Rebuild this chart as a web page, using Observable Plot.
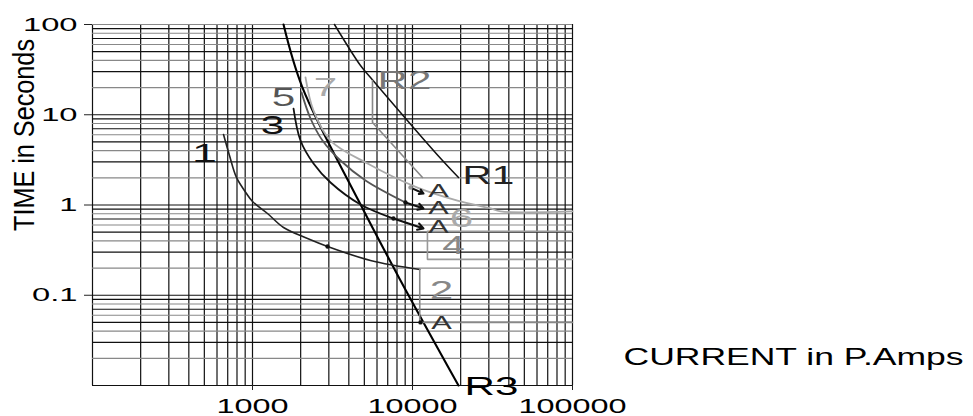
<!DOCTYPE html>
<html><head><meta charset="utf-8">
<script src="https://cdn.jsdelivr.net/npm/d3@7"></script>
<script src="https://cdn.jsdelivr.net/npm/@observablehq/plot@0.6"></script>
<style>body{margin:0;background:#fff}</style>
</head><body><div id="chart"></div>
<script>
// ---- axes / grid values ----
const xDecades = [100, 1000, 10000];
const yDecades = [0.01, 0.1, 1, 10];
const gridMultipliers = [1, 2, 3, 4, 5, 6, 7, 8, 9];
const xTickValues = [1000, 10000, 100000];
const xTickLabels = ["1000", "10000", "100000"];
const yTickValues = [100, 10, 1, 0.1];
const yTickLabels = ["100", "10", "1", "0.1"];
const xTitle = "CURRENT in P.Amps";
const yTitle = "TIME in Seconds";

// ---- curves (current in A, time in s) ----
const r3Current = [1563, 2053, 4597, 8414, 19390];
const r3Time    = [100, 20.0, 1.12, 0.146, 0.01];
const r1Current = [3254, 4732, 5463, 15399, 19390];
const r1Time    = [100, 35.1, 25.9, 3.11, 2.02];
const r2Current = [5623, 5623, 11548];
const r2Time    = [24.0, 8.2, 2.02];
const c1Current = [659, 718, 794, 917, 1000, 1241, 1563, 2208, 2944, 5463, 11100];
const c1Time    = [6.04, 3.54, 2.02, 1.34, 1.094, 0.805, 0.563, 0.425, 0.347, 0.243, 0.193];
const c2Current = [11100, 11100, 100000];
const c2Time    = [0.193, 0.05, 0.05];
const c3Current = [1805, 1995, 2405, 3073, 4732, 7603];
const c3Time    = [11.7, 5.18, 2.88, 1.775, 1.013, 0.708];
const c4Current = [100000, 12400, 12400, 100000];
const c4Time    = [0.51, 0.51, 0.25, 0.25];
const c5Current = [2024, 2304, 2738, 3548, 5085, 9040];
const c5Time    = [17.7, 9.09, 5.18, 3.11, 1.87, 1.066];
const c7Current = [2144, 2405, 3073, 5236, 10740, 19100, 30730, 35480, 100000];
const c7Time    = [25.9, 11.1, 5.18, 2.88, 1.56, 1.12, 0.915, 0.85, 0.85];

// marker dots
const dotCurrent = [2944, 7603, 9040, 11220];
const dotTime    = [0.347, 0.708, 1.066, 0.05];
const dotCurrentLight = [9716];
const dotTimeLight    = [1.56];
// arrows to the "A" marks
const arrowFromCurrent = [9716, 9040, 7603];
const arrowFromTime    = [1.56, 1.066, 0.708];
const arrowToCurrent   = [11720, 11720, 11720];
const arrowToTime      = [1.34, 0.915, 0.549];

// labels
const labelText    = ["1", "3", "5", "7", "R2", "R1", "6", "4", "2", "R3", "A", "A", "A", "A"];
const labelCurrent = [501, 1334, 1563, 2858, 8913, 29850, 20230, 18030, 15180, 31180, 14540, 14540, 14540, 15180];
const labelTime    = [3.72, 7.6, 15.5, 20.0, 24.0, 2.07, 0.708, 0.347, 0.113, 0.0097, 1.45, 0.938, 0.578, 0.0499];
const labelColor   = ["#111", "#111", "#555", "#aaa", "#777", "#222", "#aaa", "#888", "#888", "#000", "#333", "#333", "#333", "#333"];
const labelSize    = [26, 26, 26, 26, 26, 25, 26, 25, 26, 26, 19, 19, 19, 19];

// ---- build tables ----
const zip = (cs, ts) => cs.map((c, i) => ({current: c, time: ts[i]}));
const xGrid = xDecades.flatMap(d => gridMultipliers.map(m => d * m)).concat([100000]);
const yGridDark = yDecades.flatMap(d => gridMultipliers.filter(m => m % 2 === 1).map(m => d * m));
const yGridGray = yDecades.flatMap(d => gridMultipliers.filter(m => m % 2 === 0).map(m => d * m)).concat([100]);
const labels = labelText.map((t, i) => ({text: t, current: labelCurrent[i], time: labelTime[i], color: labelColor[i], size: labelSize[i]}));
const arrows = arrowFromCurrent.map((c, i) => ({x1: c, y1: arrowFromTime[i], x2: arrowToCurrent[i], y2: arrowToTime[i]}));

const series = [
  {data: zip(r3Current, r3Time), stroke: "#000", w: 2.1, curve: "catmull-rom"},
  {data: zip(r1Current, r1Time), stroke: "#111", w: 1.5, curve: "catmull-rom"},
  {data: zip(r2Current, r2Time), stroke: "#888", w: 1.6, curve: "linear"},
  {data: zip(c1Current, c1Time), stroke: "#222", w: 1.6, curve: "catmull-rom"},
  {data: zip(c2Current, c2Time), stroke: "#888", w: 1.6, curve: "linear"},
  {data: zip(c3Current, c3Time), stroke: "#111", w: 1.8, curve: "catmull-rom"},
  {data: zip(c4Current, c4Time), stroke: "#999", w: 1.6, curve: "linear"},
  {data: zip(c5Current, c5Time), stroke: "#555", w: 1.8, curve: "catmull-rom"},
  {data: zip(c7Current, c7Time), stroke: "#aaa", w: 1.8, curve: "catmull-rom"}
];

const plot = Plot.plot({
  width: 973, height: 416,
  marginLeft: 92, marginRight: 401, marginTop: 24, marginBottom: 31,
  x: {type: "log", domain: [100, 100000]},
  y: {type: "log", domain: [0.01, 100]},
  style: {fontFamily: "Liberation Sans, Arial, sans-serif", background: "#fff", color: "#000", overflow: "visible"},
  marks: [
    Plot.ruleX(xGrid, {stroke: "#111", strokeWidth: 1.2}),
    Plot.ruleY(yGridGray, {stroke: "#888", strokeWidth: 1.2}),
    Plot.ruleY(yGridDark, {stroke: "#111", strokeWidth: 1.2}),
    ...series.map(s => Plot.line(s.data, {x: "current", y: "time", stroke: s.stroke, strokeWidth: s.w, curve: s.curve})),
    Plot.arrow(arrows, {x1: "x1", y1: "y1", x2: "x2", y2: "y2", stroke: "#111", strokeWidth: 2, headLength: 5}),
    Plot.dot(zip(dotCurrent, dotTime), {x: "current", y: "time", r: 2.2, fill: "#111"}),
    Plot.dot(zip(dotCurrentLight, dotTimeLight), {x: "current", y: "time", r: 2.2, fill: "#999"}),
    Plot.text(labels, {x: "current", y: "time", text: "text", fill: "color", fontSize: "size"}),
    Plot.axisX(xTickValues, {tickFormat: d => xTickLabels[xTickValues.indexOf(d)], tickSize: 5, tickPadding: 8, fontSize: 20, label: null, stroke: "#222"}),
    Plot.axisY(yTickValues, {tickFormat: d => yTickLabels[yTickValues.indexOf(d)], tickSize: 8, tickPadding: 7, fontSize: 19, label: null, stroke: "#222"}),
    Plot.text([xTitle], {frameAnchor: "bottom-right", textAnchor: "start", dx: 51, dy: -21, fontSize: 24, fill: "#000"}),
    Plot.text([yTitle], {frameAnchor: "left", textAnchor: "middle", rotate: -90, dx: -68, dy: -70, fontSize: 30, fill: "#000"})
  ]
});
document.getElementById("chart").append(plot);

// widen glyphs like the reference (horizontally stretched lettering)
plot.querySelectorAll("text").forEach(t => {
  const s = t.textContent;
  let L;
  if (s === yTitle) L = 192;
  else if (s === xTitle) L = 340;
  else if (yTickLabels.includes(s)) L = t.getComputedTextLength() * 1.72;
  else L = t.getComputedTextLength() * 1.62;
  t.setAttribute("textLength", L);
  t.setAttribute("lengthAdjust", "spacingAndGlyphs");
});
</script>
</body></html>
